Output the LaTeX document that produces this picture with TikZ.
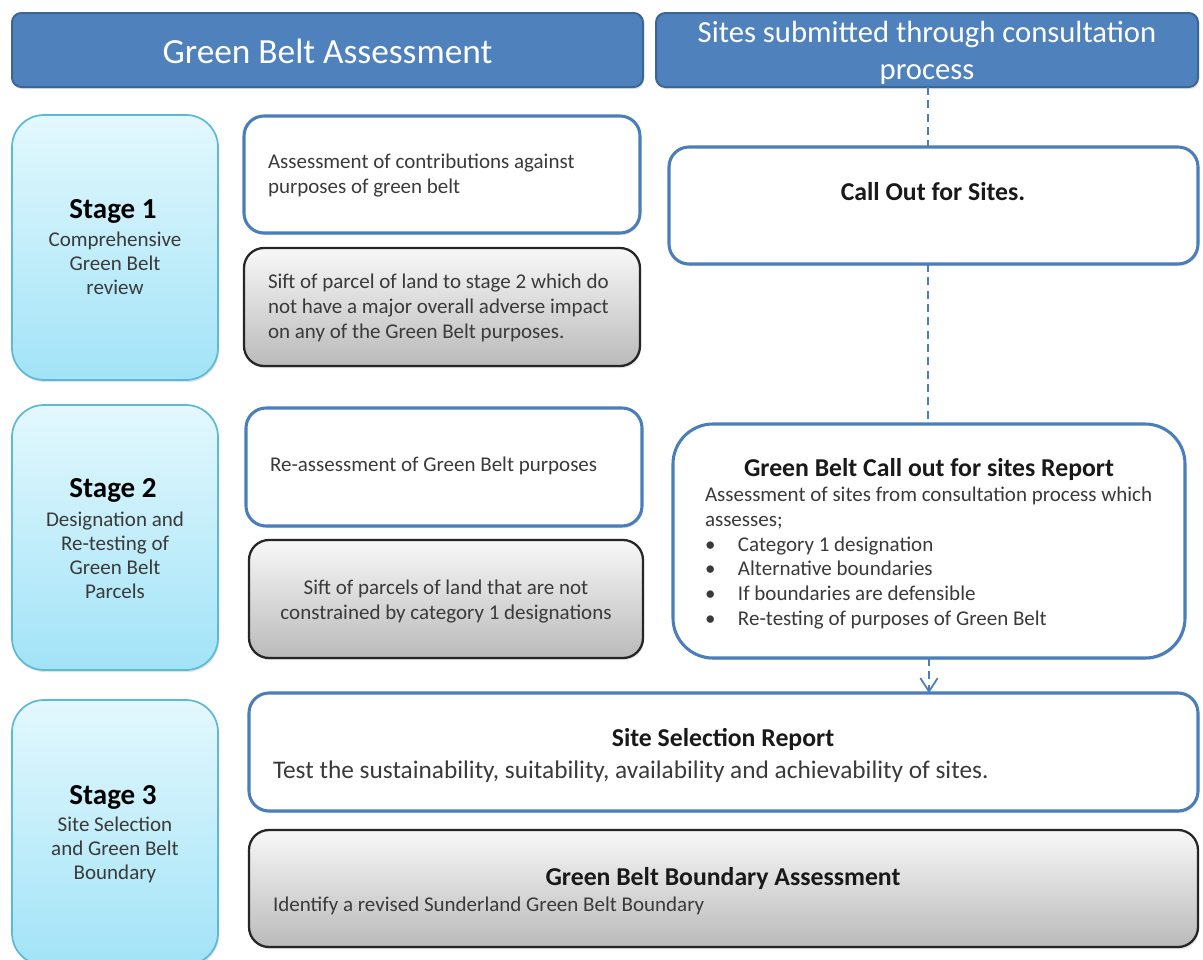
\documentclass[tikz,border=0pt]{standalone}
\usepackage{fontspec}
\setmainfont{Carlito}
\usetikzlibrary{arrows.meta,shadows}
\definecolor{hdr}{HTML}{4F81BD}
\definecolor{hdrb}{HTML}{3A6696}
\definecolor{stgtop}{HTML}{E3F8FD}
\definecolor{stgbot}{HTML}{A2E3F7}
\definecolor{stgb}{HTML}{5CBAD6}
\definecolor{bluebd}{HTML}{4A7EBB}
\definecolor{txt}{HTML}{3A3A3A}
\definecolor{grytop}{HTML}{F8F8F8}
\definecolor{grybot}{HTML}{BABABA}
\newcommand{\myfs}[2]{\fontsize{#1pt}{#2pt}\selectfont}
\tikzset{
  sz/.style 2 args={minimum width=#1*0.75pt, minimum height=#2*0.75pt, inner sep=0pt, outer sep=0pt},
  shd/.style={drop shadow={opacity=0.22, shadow xshift=0.8pt, shadow yshift=-1.6pt}},
  hdrbox/.style={draw=hdrb, line width=1.5pt, fill=hdr, rounded corners=7pt, shd},
  stagebox/.style={draw=stgb, line width=1.3pt, top color=stgtop, bottom color=stgbot, rounded corners=24pt, shd},
  wbox/.style={draw=bluebd, line width=2.3pt, fill=white, rounded corners=15pt, shd},
  gbox/.style={draw=black!85, line width=1.7pt, top color=grytop, bottom color=grybot, rounded corners=15pt, shd},
  rbox/.style={wbox, rounded corners=30pt},
  body/.style={font=\myfs{15.75}{18.75}, text=txt, inner sep=0pt, outer sep=0pt},
  stagett/.style={font=\bfseries\myfs{21.75}{26}, text=black, inner sep=0pt, anchor=base},
  stagesub/.style={font=\myfs{15.75}{18}, text=txt, inner sep=0pt, align=center, anchor=base},
  headt/.style={font=\bfseries\myfs{19.3}{23}, text=black!90, inner sep=0pt, anchor=base},
  conn/.style={draw=bluebd, line width=1.5pt, dash pattern=on 6pt off 4pt},
}
\begin{document}
\begin{tikzpicture}[x=0.75pt,y=-0.75pt]
\path[use as bounding box, clip] (0,0) rectangle (1203,960);
\fill[white] (0,0) rectangle (1203,960);

% headers
\node[hdrbox, sz={631}{74}] (hL) at (327.5,50) {};
\node[hdrbox, sz={542}{74}] (hR) at (927,50) {};
\node[font=\myfs{26.5}{30}, text=white, inner sep=0pt, anchor=base] (hLt) at (327.5,63) {Green Belt Assessment};
\node[font=\myfs{23}{27.5}, text=white, inner sep=0pt, anchor=base, align=center] (hRt) at (927,79.5) {Sites submitted through consultation\\process};

% stage boxes
\node[stagebox, sz={206}{265}] (s1) at (115,247.5) {};
\node[stagebox, sz={206}{265}] (s2) at (115,537.5) {};
\node[stagebox, sz={206}{265}] (s3) at (115,832.5) {};
\node[stagett] (s1t) at (113,218) {Stage 1};
\node[stagesub] (s1s) at (115,294) {Comprehensive\\Green Belt\\review};
\node[stagett] (s2t) at (113,497) {Stage 2};
\node[stagesub] (s2s) at (115,598) {Designation and\\Re-testing of\\Green Belt\\Parcels};
\node[stagett] (s3t) at (113,804) {Stage 3};
\node[stagesub] (s3s) at (115,879) {Site Selection\\and Green Belt\\Boundary};

% left column boxes
\node[wbox, sz={396}{117}] (a1) at (442,174.5) {};
\node[gbox, sz={396}{118}] (g1) at (442,307) {};
\node[wbox, sz={396}{118}] (a2) at (444,467) {};
\node[gbox, sz={394}{118}] (g2) at (446,599) {};
\node[body, anchor=base west, align=left] (a1t) at (268,193) {Assessment of contributions against\\purposes of green belt};
\node[body, anchor=base west, align=left] (g1t) at (268,338) {Sift of parcel of land to stage 2 which do\\not have a major overall adverse impact\\on any of the Green Belt purposes.};
\node[body, anchor=base west, align=left] (a2t) at (270,471) {Re-assessment of Green Belt purposes};
\node[body, anchor=base, align=center] (g2t) at (446,619) {Sift of parcels of land that are not\\constrained by category 1 designations};

% right column boxes
\node[wbox, sz={529}{117}] (c1) at (933.5,205.5) {};
\node[headt] (c1t) at (933,200) {Call Out for Sites.};
\node[rbox, sz={512}{234}] (r1) at (929,541) {};
\node[headt] (r1t) at (929,476) {Green Belt Call out for sites Report};
\node[body, font=\myfs{15.75}{18.5}, anchor=base west, align=left] (r1b) at (705,625) {Assessment of sites from consultation process which\\assesses;\\
\makebox[24.75pt][l]{•}Category 1 designation\\
\makebox[24.75pt][l]{•}Alternative boundaries\\
\makebox[24.75pt][l]{•}If boundaries are defensible\\
\makebox[24.75pt][l]{•}Re-testing of purposes of Green Belt};

% stage 3 wide boxes
\node[wbox, sz={949}{118}] (ss) at (723.5,752) {};
\node[headt] (sst) at (723,746) {Site Selection Report};
\node[body, font=\myfs{19}{23}, anchor=base west] (ssb) at (273,778) {Test the sustainability, suitability, availability and achievability of sites.};
\node[gbox, sz={949}{117}] (gb) at (723.5,888.5) {};
\node[headt] (gbt) at (723,885) {Green Belt Boundary Assessment};
\node[body, anchor=base west] (gbb) at (273,911) {Identify a revised Sunderland Green Belt Boundary};

% connectors
\coordinate (x1) at (928,0);
\draw[conn] (hR.south -| x1) -- (c1.north -| x1);
\draw[conn] (c1.south -| x1) -- (r1.north -| x1);
\draw[conn, -{Straight Barb[length=10pt,width=13pt,line width=1.3pt]}] (r1.south) -- (ss.north -| r1.south);
\end{tikzpicture}
\end{document}
